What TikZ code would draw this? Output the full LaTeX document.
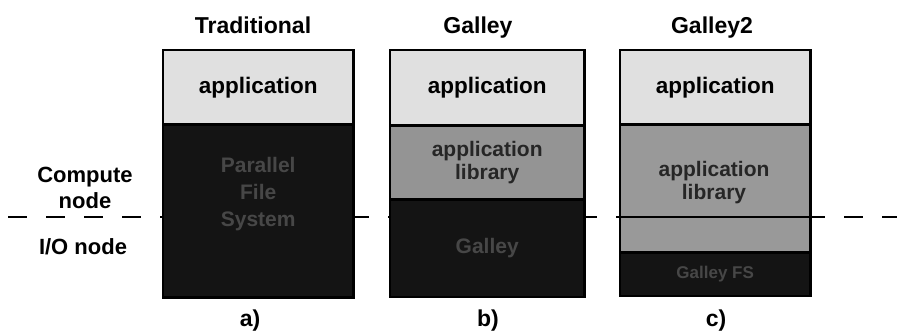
\documentclass[tikz,border=0pt]{standalone}
\usepackage{fontspec}
\setmainfont{Liberation Sans}
\usetikzlibrary{positioning}
\tikzset{
  layer/.style={draw=black, line width=1.4pt, inner sep=0pt, anchor=north west,
    align=center, minimum width=189pt},
  applayer/.style={layer, fill=black!12, font=\fontsize{22.5}{24}\selectfont\bfseries},
  liblayer/.style={layer, fill=black!42, text=black!85, font=\fontsize{21}{23}\selectfont\bfseries},
  fslayer/.style={layer, fill=black!92, text=black!72, font=\fontsize{21}{27}\selectfont\bfseries},
  frame/.style={draw=black, line width=2.2pt},
  heading/.style={anchor=base, font=\fontsize{23}{26}\selectfont\bfseries},
  sidelabel/.style={align=center, font=\fontsize{22}{26}\selectfont\bfseries},
  cutline/.style={line width=1.6pt, dash pattern=on 19pt off 19pt},
}
\begin{document}
\begin{tikzpicture}[x=1pt, y=-1pt]
  \useasboundingbox (0,0) rectangle (897,332);
  % compute / I/O boundary
  \coordinate (cutL) at (8,217);
  \coordinate (cutR) at (897,217);
  \draw[cutline] (cutL) -- (cutR);
  \node[sidelabel] (compute) at (85,188) {Compute\\node};
  \node[sidelabel] (ionode) at (83,247) {I/O node};

  % a) traditional
  \node[heading] (titleA) at (253,33) {Traditional};
  \node[applayer, minimum height=73pt] (appA) at (163,50) {application};
  \node[fslayer, minimum height=172pt] (fsA) at (appA.south west) {Parallel\\File\\System\\[12pt]};
  \draw[frame] (appA.north west) rectangle (fsA.south east);
  \node[heading] (capA) at (250,326) {a)};

  % b) galley
  \node[heading] (titleB) at (478,33) {Galley};
  \node[applayer, minimum width=193pt, minimum height=74pt] (appB) at (390,50) {application};
  \node[liblayer, minimum width=193pt, minimum height=73pt] (libB) at (appB.south west) {application\\library};
  \node[fslayer, minimum width=193pt, minimum height=96pt] (fsB) at (libB.south west) {Galley};
  \draw[frame] (appB.north west) rectangle (fsB.south east);
  \node[heading] (capB) at (488,326) {b)};

  % c) galley2
  \node[heading] (titleC) at (712,33) {Galley2};
  \node[applayer, minimum height=73pt] (appC) at (620,50) {application};
  \node[liblayer, fill=black!40, minimum height=127pt] (libC) at (appC.south west) {};
  \node[align=center, text=black!85, font=\fontsize{21}{23}\selectfont\bfseries] (libtextC) at (714,183) {application\\library};
  \node[fslayer, minimum height=42pt, font=\fontsize{17}{19}\selectfont\bfseries] (fsC) at (libC.south west) {Galley FS};
  \draw[line width=1.4pt] (libC.west |- cutL) -- (libC.east |- cutL);
  \draw[frame] (appC.north west) rectangle (fsC.south east);
  \node[heading] (capC) at (716,326) {c)};
\end{tikzpicture}
\end{document}
